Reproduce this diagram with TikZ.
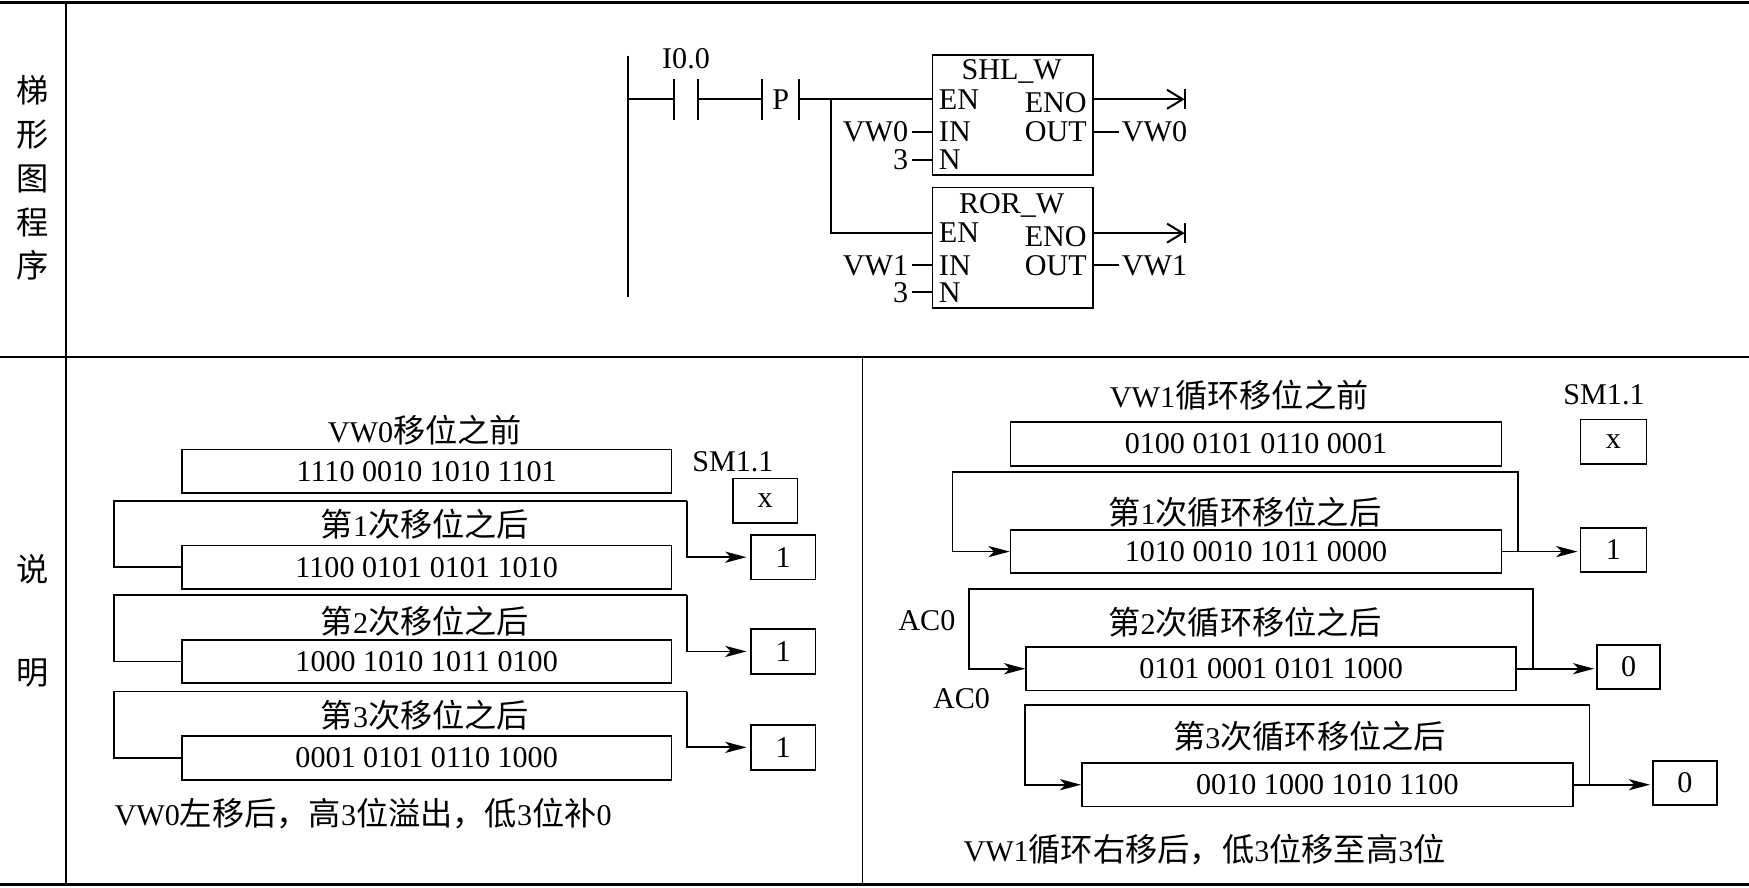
\documentclass[tikz,border=0pt]{standalone}
\usepackage{fontspec}
\setmainfont{Liberation Serif}
\newfontfamily\cjkfont[Scale=1.07]{Noto Sans CJK SC}
\newcommand{\zhtxt}[1]{{\cjkfont #1}}
\usetikzlibrary{arrows.meta}
\begin{document}
\begin{tikzpicture}[x=1pt,y=-1pt,font=\fontsize{27}{32}\selectfont,line width=1.6pt,
  txt/.style={inner sep=0pt},
  reg/.style={draw,minimum width=439pt,minimum height=39pt,inner sep=0pt},
  bitbox/.style={draw,minimum width=58pt,minimum height=40pt,inner sep=0pt},
  fb/.style={draw,minimum width=144pt,minimum height=108pt,inner sep=0pt},
  lad/.style={line width=1.8pt},
  arr/.style={-{Stealth[length=19pt,width=10pt,inset=5pt]}},
  barb/.style={-{Straight Barb[length=14pt,width=17pt]}}]
\useasboundingbox (0,0) rectangle (1568,796);
% ---------- table ----------
\draw[line width=3pt] (0,2) -- (1568,2);
\draw[line width=3pt] (0,793) -- (1568,793);
\draw[line width=1.3pt] (0,320) -- (1568,320);
\draw[line width=1.3pt] (59,2) -- (59,793);
\draw[line width=1.3pt] (773,320) -- (773,793);
\node[txt] (t1) at (29,81) {\zhtxt{梯}};
\node[txt] (t2) at (29,121) {\zhtxt{形}};
\node[txt] (t3) at (29,160) {\zhtxt{图}};
\node[txt] (t4) at (29,199) {\zhtxt{程}};
\node[txt] (t5) at (29,238) {\zhtxt{序}};
\node[txt] (t6) at (29,510) {\zhtxt{说}};
\node[txt] (t7) at (29,603) {\zhtxt{明}};
% ---------- ladder ----------
\coordinate (railtop) at (563,50);
\coordinate (railbot) at (563,266);
\draw[lad] (railtop) -- (railbot);
\coordinate (c1a) at (604,89);
\coordinate (c1b) at (626,89);
\coordinate (p1a) at (683,89);
\coordinate (p1b) at (716,89);
\coordinate (br) at (745,89);
\coordinate (en2) at (745,209);
\draw[lad] (railtop |- c1a) -- (c1a);
\draw[lad] ([yshift=18pt]c1a) -- ([yshift=-19pt]c1a);
\draw[lad] ([yshift=18pt]c1b) -- ([yshift=-19pt]c1b);
\node[txt] (i00) at (615,53) {I0.0};
\draw[lad] (c1b) -- (p1a);
\draw[lad] ([yshift=18pt]p1a) -- ([yshift=-19pt]p1a);
\draw[lad] ([yshift=18pt]p1b) -- ([yshift=-19pt]p1b);
\node[txt] (pl) at (700,89) {P};
\node[fb] (shl) at (908,103) {};
\node[fb] (ror) at (908,222) {};
\draw[lad] (p1b) -- (shl.west |- p1b);
\draw[lad] (br) -- (en2) -- (ror.west |- en2);
% SHL_W labels
\node[txt,anchor=base] (shlt) at (907,71) {SHL\_W};
\node[txt,anchor=west] (en1l) at (841,89) {EN};
\node[txt,anchor=east] (eno1l) at (975,92) {ENO};
\node[txt,anchor=west] (in1l) at (841,118) {IN};
\node[txt,anchor=east] (out1l) at (975,118) {OUT};
\node[txt,anchor=west] (n1l) at (841,143) {N};
\node[txt,anchor=east] (vw0in) at (815,118) {VW0};
\node[txt,anchor=east] (three1) at (815,143) {3};
\node[txt,anchor=west] (vw0out) at (1005,118) {VW0};
\draw[lad] ([xshift=3pt]vw0in.east) -- (shl.west |- vw0in.east);
\draw[lad] ([xshift=3pt]three1.east) -- (shl.west |- three1.east);
\draw[lad] (shl.east |- vw0out.west) -- ([xshift=-2pt]vw0out.west);
\coordinate (eno1) at (1062,89);
\draw[lad,barb] (shl.east |- eno1) -- (eno1);
\draw[lad] ([yshift=9pt]eno1) -- ([yshift=-9pt]eno1);
% ROR_W labels
\node[txt,anchor=base] (rort) at (907,191) {ROR\_W};
\node[txt,anchor=west] (en2l) at (841,209) {EN};
\node[txt,anchor=east] (eno2l) at (975,212) {ENO};
\node[txt,anchor=west] (in2l) at (841,238) {IN};
\node[txt,anchor=east] (out2l) at (975,238) {OUT};
\node[txt,anchor=west] (n2l) at (841,262) {N};
\node[txt,anchor=east] (vw1in) at (815,238) {VW1};
\node[txt,anchor=east] (three2) at (815,262) {3};
\node[txt,anchor=west] (vw1out) at (1005,238) {VW1};
\draw[lad] ([xshift=3pt]vw1in.east) -- (ror.west |- vw1in.east);
\draw[lad] ([xshift=3pt]three2.east) -- (ror.west |- three2.east);
\draw[lad] (ror.east |- vw1out.west) -- ([xshift=-2pt]vw1out.west);
\coordinate (eno2) at (1062,209);
\draw[lad,barb] (ror.east |- eno2) -- (eno2);
\draw[lad] ([yshift=9pt]eno2) -- ([yshift=-9pt]eno2);
% ---------- lower left: SHL ----------
\node[txt] (lt0) at (381,386) {VW0\zhtxt{移位之前}};
\node[reg] (L0) at (382.5,422.5) {1110 0010 1010 1101};
\node[txt] (sm1) at (657,414) {SM1.1};
\node[bitbox] (lx) at (686,449) {x};
\node[txt] (lt1) at (381,470) {\zhtxt{第}1\zhtxt{次移位之后}};
\node[reg] (L1) at (382.5,508.5) {1100 0101 0101 1010};
\node[bitbox] (lb1) at (702,499.5) {1};
\node[txt] (lt2) at (381,557) {\zhtxt{第}2\zhtxt{次移位之后}};
\node[reg] (L2) at (382.5,593) {1000 1010 1011 0100};
\node[bitbox] (lb2) at (702,584) {1};
\node[txt] (lt3) at (381,641) {\zhtxt{第}3\zhtxt{次移位之后}};
\node[reg] (L3) at (382.5,679.5) {0001 0101 0110 1000};
\node[bitbox] (lb3) at (702,670) {1};
\coordinate (ll1) at (102,449);
\coordinate (lr1) at (616,449);
\coordinate (ll2) at (102,533.5);
\coordinate (lr2) at (616,533.5);
\coordinate (ll3) at (102,620);
\coordinate (lr3) at (616,620);
\draw (L1.west) -| (ll1) -- (lr1);
\draw[arr,shorten >=3pt] (lr1) |- (lb1.west);
\draw (L2.west) -| (ll2) -- (lr2);
\draw[arr,shorten >=3pt] (lr2) |- (lb2.west);
\draw (L3.west) -| (ll3) -- (lr3);
\draw[arr,shorten >=3pt] (lr3) |- (lb3.west);
\node[txt,anchor=west] (lnote) at (102,729) {VW0\zhtxt{左移后，高}3\zhtxt{位溢出，低}3\zhtxt{位补}0};
% ---------- lower right: ROR ----------
\node[txt] (rt0) at (1111,354) {VW1\zhtxt{循环移位之前}};
\node[txt] (sm2) at (1438,354) {SM1.1};
\node[reg,minimum width=440pt,minimum height=40pt] (R0) at (1126,398) {0100 0101 0110 0001};
\node[bitbox,minimum width=59pt] (rx) at (1446.5,396) {x};
\node[txt] (rt1) at (1116,459) {\zhtxt{第}1\zhtxt{次循环移位之后}};
\node[reg,minimum width=440pt] (R1) at (1126,494.5) {1010 0010 1011 0000};
\node[bitbox,minimum width=59pt] (rb1) at (1446.5,493) {1};
\node[txt] (ac0a) at (831,556) {AC0};
\node[txt] (rt2) at (1116,558) {\zhtxt{第}2\zhtxt{次循环移位之后}};
\node[reg] (R2) at (1139.5,599.5) {0101 0001 0101 1000};
\node[bitbox,minimum width=56pt] (rb2) at (1460,598) {0};
\node[txt] (ac0b) at (862,626) {AC0};
\node[txt] (rt3) at (1174,660) {\zhtxt{第}3\zhtxt{次循环移位之后}};
\node[reg,minimum width=440pt] (R3) at (1190,703.5) {0010 1000 1010 1100};
\node[bitbox,minimum width=57pt] (rb3) at (1510.5,702) {0};
% loops
\coordinate (rr1) at (1361,423);
\coordinate (rl1) at (854,423);
\coordinate (rr2) at (1374,528);
\coordinate (rl2) at (868.5,528);
\coordinate (rr3) at (1425,632);
\coordinate (rl3) at (919,632);
\draw[arr,shorten >=2pt] (R1.east) -- (R1.east -| rb1.west);
\draw[arr] (R1.east -| rr1) -- (rr1) -- (rl1) |- (R1.west);
\draw[arr,shorten >=2pt] (R2.east) -- (R2.east -| rb2.west);
\draw[arr] (R2.east -| rr2) -- (rr2) -- (rl2) |- (R2.west);
\draw[arr,shorten >=2pt] (R3.east) -- (R3.east -| rb3.west);
\draw[arr] (R3.east -| rr3) -- (rr3) -- (rl3) |- (R3.west);
\node[txt,anchor=west] (rnote) at (863,762) {VW1\zhtxt{循环右移后，低}3\zhtxt{位移至高}3\zhtxt{位}};
\end{tikzpicture}
\end{document}
